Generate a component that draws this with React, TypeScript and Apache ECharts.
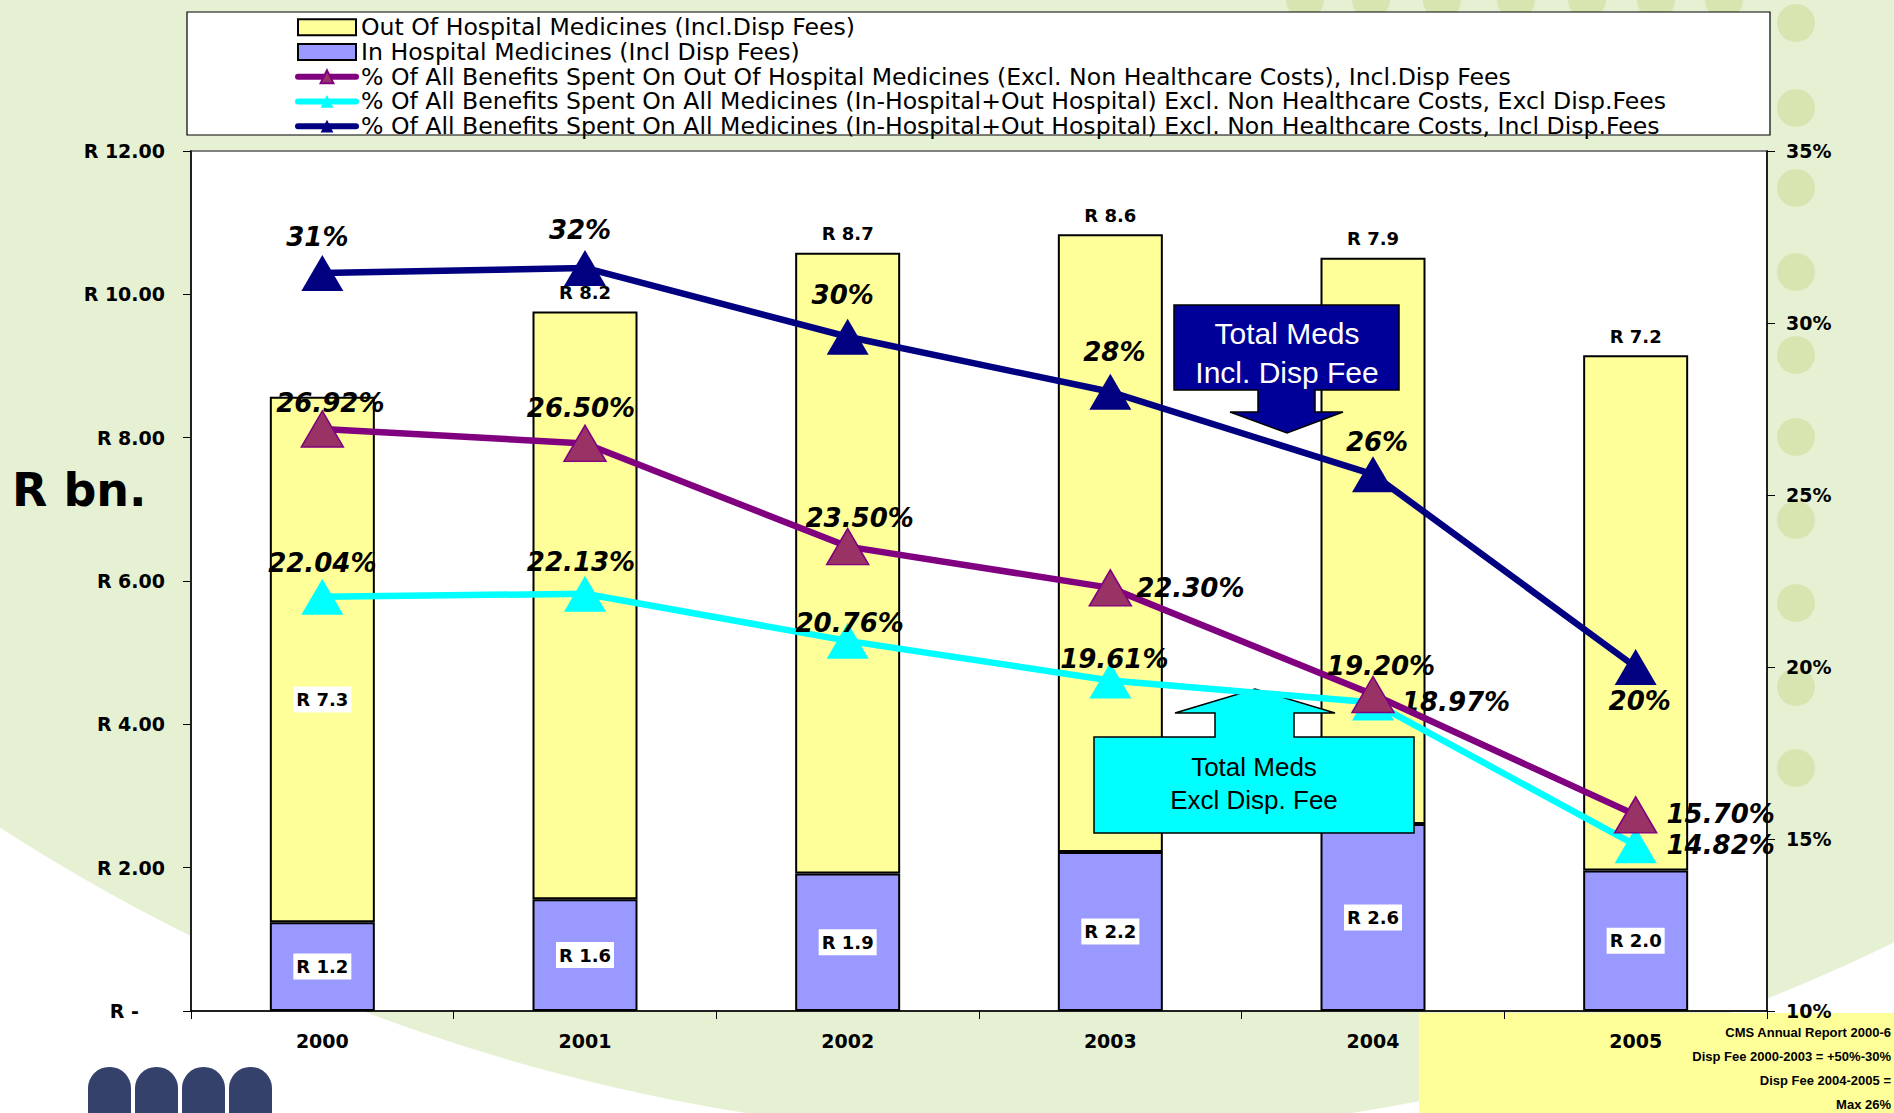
import React, { useEffect, useRef } from 'react';
import * as echarts from 'echarts';

// ---------- data ----------
const years = ['2000', '2001', '2002', '2003', '2004', '2005'];
const inHospital = [1.24, 1.56, 1.92, 2.22, 2.61, 1.96];
const outHospital = [7.33, 8.2, 8.66, 8.62, 7.9, 7.19];
const pctOutHospInclDisp = [26.92, 26.5, 23.5, 22.3, 19.2, 15.7];
const pctAllExclDisp = [22.04, 22.13, 20.76, 19.61, 18.97, 14.82];
const pctAllInclDisp = [31.45, 31.6, 29.6, 28.0, 25.6, 20.0];

const leftMin = 0;
const leftMax = 12;
const leftStep = 2;
const rightMin = 10;
const rightMax = 35;
const rightStep = 5;

const seriesNames = [
  'Out Of Hospital Medicines (Incl.Disp Fees)',
  'In Hospital Medicines (Incl Disp Fees)',
  '% Of All Benefits Spent On Out Of Hospital Medicines (Excl. Non Healthcare Costs), Incl.Disp Fees',
  '% Of All Benefits Spent On All Medicines (In-Hospital+Out Hospital) Excl. Non Healthcare Costs, Excl Disp.Fees',
  '% Of All Benefits Spent On All Medicines (In-Hospital+Out Hospital) Excl. Non Healthcare Costs, Incl Disp.Fees',
];

const noteLines = [
  'CMS Annual Report 2000-6',
  'Disp Fee 2000-2003 = +50%-30%',
  'Disp Fee 2004-2005 =',
  'Max 26%',
];
const calloutInclText = ['Total Meds', 'Incl. Disp Fee'];
const calloutExclText = ['Total Meds', 'Excl Disp. Fee'];

// ---------- label placement (styles) ----------
const navyOffsets = [[-5, -36], [-5, -38], [-5, -42], [4, -40], [4, -32], [4, 34]];
const purpleOffsets = [[8, -26], [-4, -35], [12, -29], [80, 0], [8, -29], [85, -1]];
const cyanOffsets = [[0, -34], [-4, -32], [2, -18], [4, -21], [83, 0], [85, 0]];

const FONT = 'DejaVu Sans';
const BG_GREEN = '#E6F1D4';
const DOT_GREEN = '#D7E5B1';

const dotsTop = [1305, 1371, 1442, 1516, 1587, 1656, 1724];
const dotsRight = [23, 108, 188, 272, 355, 437, 520, 603, 687, 768];

function buildOption() {
  const pctLabel = {
    show: true,
    position: 'inside',
    color: '#000',
    fontFamily: FONT,
    fontSize: 26,
    fontStyle: 'italic',
    fontWeight: 'bold',
  };

  const graphics: any[] = [];
  graphics.push({
    type: 'circle',
    shape: { cx: 1049, cy: -797, r: 1934 },
    style: { fill: BG_GREEN },
    z: -10,
    silent: true,
  });
  dotsTop.forEach((x) =>
    graphics.push({ type: 'circle', shape: { cx: x, cy: 0, r: 19 }, style: { fill: DOT_GREEN }, z: -9, silent: true })
  );
  dotsRight.forEach((y) =>
    graphics.push({ type: 'circle', shape: { cx: 1796, cy: y, r: 19 }, style: { fill: DOT_GREEN }, z: -9, silent: true })
  );
  // bottom-right yellow note box
  graphics.push({
    type: 'rect',
    shape: { x: 1419, y: 1013, width: 475, height: 100 },
    style: { fill: '#FFFF99' },
    z: -5,
    silent: true,
  });
  noteLines.forEach((t, i) =>
    graphics.push({
      type: 'text',
      x: 1891,
      y: 1032 + i * 24.3,
      style: {
        text: t,
        fill: '#000',
        font: 'bold 13px "Liberation Sans"',
        textAlign: 'right',
        textVerticalAlign: 'middle',
        align: 'right',
        verticalAlign: 'middle',
      },
      z: 6,
    })
  );
  // logo
  [88, 135, 182, 229].forEach((x) =>
    graphics.push({
      type: 'rect',
      shape: { x, y: 1067, width: 43, height: 60, r: [21, 21, 0, 0] },
      style: { fill: '#33416B' },
      z: 6,
      silent: true,
    })
  );
  // legend box
  graphics.push({
    type: 'rect',
    shape: { x: 187, y: 12, width: 1583, height: 123 },
    style: { fill: '#fff', stroke: '#000', lineWidth: 1.2 },
    z: 3,
    silent: true,
  });
  // R bn.
  graphics.push({
    type: 'text',
    x: 12,
    y: 490,
    style: {
      text: 'R bn.',
      fill: '#000',
      font: `bold 46px "${FONT}"`,
      textAlign: 'left',
      textVerticalAlign: 'middle',
      align: 'left',
      verticalAlign: 'middle',
    },
    z: 6,
  });
  // navy down-arrow callout
  graphics.push({
    type: 'polygon',
    shape: {
      points: [
        [1174, 305], [1399, 305], [1399, 390], [1315, 390], [1315, 412], [1343, 412],
        [1287, 433], [1230, 412], [1258, 412], [1258, 390], [1174, 390],
      ],
    },
    style: { fill: '#000099', stroke: '#000', lineWidth: 1.5 },
    z: 3,
  });
  calloutInclText.forEach((t, i) =>
    graphics.push({
      type: 'text',
      x: 1287,
      y: 333 + i * 39,
      style: {
        text: t,
        fill: '#fff',
        font: '30px "Liberation Sans"',
        textAlign: 'center',
        textVerticalAlign: 'middle',
        align: 'center',
        verticalAlign: 'middle',
      },
      z: 3,
    })
  );
  // cyan up-arrow callout
  graphics.push({
    type: 'polygon',
    shape: {
      points: [
        [1094, 737], [1215, 737], [1215, 713], [1175, 713], [1255, 689], [1335, 713],
        [1294, 713], [1294, 737], [1414, 737], [1414, 833], [1094, 833],
      ],
    },
    style: { fill: '#00FFFF', stroke: '#000', lineWidth: 1.5 },
    z: 3,
  });
  calloutExclText.forEach((t, i) =>
    graphics.push({
      type: 'text',
      x: 1254,
      y: 767 + i * 33,
      style: {
        text: t,
        fill: '#000',
        font: '26px "Liberation Sans"',
        textAlign: 'center',
        textVerticalAlign: 'middle',
        align: 'center',
        verticalAlign: 'middle',
      },
      z: 3,
    })
  );

  const axisLabelStyle = {
    color: '#000',
    fontFamily: FONT,
    fontSize: 19,
    fontWeight: 'bold',
  };

  return {
    animation: false,
    backgroundColor: '#ffffff',
    textStyle: { fontFamily: FONT },
    grid: {
      left: 191,
      right: 127,
      top: 151,
      bottom: 102,
      show: true,
      backgroundColor: '#ffffff',
      borderColor: '#808080',
      borderWidth: 2,
    },
    legend: {
      orient: 'vertical',
      left: 290,
      top: 10,
      itemWidth: 58,
      itemHeight: 16,
      itemGap: 0,
      z: 4,
      lineStyle: { width: 6, cap: 'round' },
      textStyle: { color: '#000', fontFamily: FONT, fontSize: 23.6, lineHeight: 24.7 },
      data: [
        { name: seriesNames[0], icon: 'rect' },
        { name: seriesNames[1], icon: 'rect' },
        { name: seriesNames[2] },
        { name: seriesNames[3] },
        { name: seriesNames[4] },
      ],
    },
    xAxis: {
      type: 'category',
      data: years,
      boundaryGap: true,
      axisLine: { lineStyle: { color: '#000', width: 1.5 } },
      axisTick: { show: true, length: 8, lineStyle: { color: '#000' } },
      axisLabel: { ...axisLabelStyle, margin: 20 },
      splitLine: { show: false },
    },
    yAxis: [
      {
        type: 'value',
        min: leftMin,
        max: leftMax,
        interval: leftStep,
        position: 'left',
        axisLine: { show: true, lineStyle: { color: '#000', width: 1.5 } },
        axisTick: { show: true, length: 8, lineStyle: { color: '#000' } },
        splitLine: { show: false },
        axisLabel: {
          ...axisLabelStyle,
          margin: 26,
          formatter: (v: number) => (v === 0 ? '{z|R -}' : 'R ' + v.toFixed(2)),
          rich: {
            z: {
              color: '#000',
              fontFamily: FONT,
              fontSize: 19,
              fontWeight: 'bold',
              padding: [0, 26, 0, 0],
            },
          },
        },
      },
      {
        type: 'value',
        min: rightMin,
        max: rightMax,
        interval: rightStep,
        position: 'right',
        axisLine: { show: true, lineStyle: { color: '#000', width: 1.5 } },
        axisTick: { show: true, length: 8, lineStyle: { color: '#000' } },
        splitLine: { show: false },
        axisLabel: { ...axisLabelStyle, margin: 19, formatter: (v: number) => v + '%' },
      },
    ],
    graphic: { elements: graphics },
    series: [
      {
        name: seriesNames[1],
        type: 'bar',
        stack: 'meds',
        barWidth: 105,
        z: 2,
        itemStyle: { color: '#9999FF', borderColor: '#000', borderWidth: 2 },
        label: {
          show: true,
          position: 'inside',
          color: '#000',
          fontFamily: FONT,
          fontSize: 18,
          fontWeight: 'bold',
          backgroundColor: '#fff',
          padding: [5, 3, 3, 3],
          formatter: (p: any) => 'R ' + p.value.toFixed(1),
        },
        data: inHospital,
      },
      {
        name: seriesNames[0],
        type: 'bar',
        stack: 'meds',
        barWidth: 105,
        z: 2,
        itemStyle: { color: '#FFFF99', borderColor: '#000', borderWidth: 2 },
        label: {
          show: true,
          position: 'top',
          distance: 10,
          color: '#000',
          fontFamily: FONT,
          fontSize: 18,
          fontWeight: 'bold',
          formatter: (p: any) => 'R ' + p.value.toFixed(1),
        },
        data: outHospital.map((v, i) =>
          i === 0
            ? {
                value: v,
                label: { position: 'inside', offset: [0, 40], backgroundColor: '#fff', padding: [5, 3, 3, 3] },
              }
            : v
        ),
      },
      {
        name: seriesNames[3],
        type: 'line',
        yAxisIndex: 1,
        z: 5,
        symbol: 'triangle',
        symbolSize: [42, 36],
        lineStyle: { color: '#00FFFF', width: 6.5 },
        itemStyle: { color: '#00FFFF' },
        label: { ...pctLabel, formatter: (p: any) => p.value.toFixed(2) + '%' },
        data: pctAllExclDisp.map((v, i) => ({ value: v, label: { offset: cyanOffsets[i] } })),
      },
      {
        name: seriesNames[2],
        type: 'line',
        yAxisIndex: 1,
        z: 6,
        symbol: 'triangle',
        symbolSize: [42, 36],
        lineStyle: { color: '#800080', width: 6.5 },
        itemStyle: { color: '#993366', borderColor: '#800080', borderWidth: 1.5 },
        label: { ...pctLabel, formatter: (p: any) => p.value.toFixed(2) + '%' },
        data: pctOutHospInclDisp.map((v, i) => ({ value: v, label: { offset: purpleOffsets[i] } })),
      },
      {
        name: seriesNames[4],
        type: 'line',
        yAxisIndex: 1,
        z: 7,
        symbol: 'triangle',
        symbolSize: [42, 36],
        lineStyle: { color: '#000080', width: 6.5 },
        itemStyle: { color: '#000080' },
        label: { ...pctLabel, formatter: (p: any) => Math.round(p.value) + '%' },
        data: pctAllInclDisp.map((v, i) => ({ value: v, label: { offset: navyOffsets[i] } })),
      },
    ],
  };
}

export default function App() {
  const ref = useRef<HTMLDivElement>(null);
  useEffect(() => {
    if (!ref.current) return;
    const chart = echarts.init(ref.current, undefined, { renderer: 'svg' });
    chart.setOption(buildOption() as any);
    return () => chart.dispose();
  }, []);
  return (
    <div
      ref={ref}
      style={{ position: 'absolute', left: 0, top: 0, width: 1894, height: 1113, overflow: 'hidden' }}
    />
  );
}
